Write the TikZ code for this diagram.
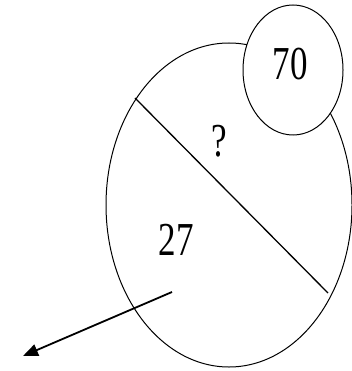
\documentclass[tikz,border=0pt]{standalone}
\usepackage{fontspec}
\setmainfont{Liberation Serif}
\usetikzlibrary{arrows.meta,shapes.geometric}

\begin{document}
\begin{tikzpicture}[x=1pt,y=-1pt,>={Triangle[length=15pt,width=12pt]}]
      \useasboundingbox (0,0) rectangle (352,371);
      \tikzset{num/.style={font=\fontsize{35}{40}\selectfont,yscale=1.35,inner sep=0pt}}
      \node[draw,ellipse,line width=1pt,minimum width=246pt,minimum height=324pt,inner sep=0pt] (big) at (229,205) {};
      \node[draw,ellipse,fill=white,line width=1pt,minimum width=100pt,minimum height=130pt,inner sep=0pt] (small) at (293,70) {};
      \node[num] (val) at (290,64) {70};
      \node[num] (q) at (219,141) {?};
      \node[num] (cnt) at (176,240) {27};
      \coordinate (cutA) at (135,98);
      \coordinate (cutB) at (328,293);
      \coordinate (out) at (172,292);
      \coordinate (tip) at (23,356);
      \draw[line width=1.3pt] (cutA)--(cutB);
      \draw[->,line width=1.8pt] (out)--(tip);
\end{tikzpicture}
\end{document}
